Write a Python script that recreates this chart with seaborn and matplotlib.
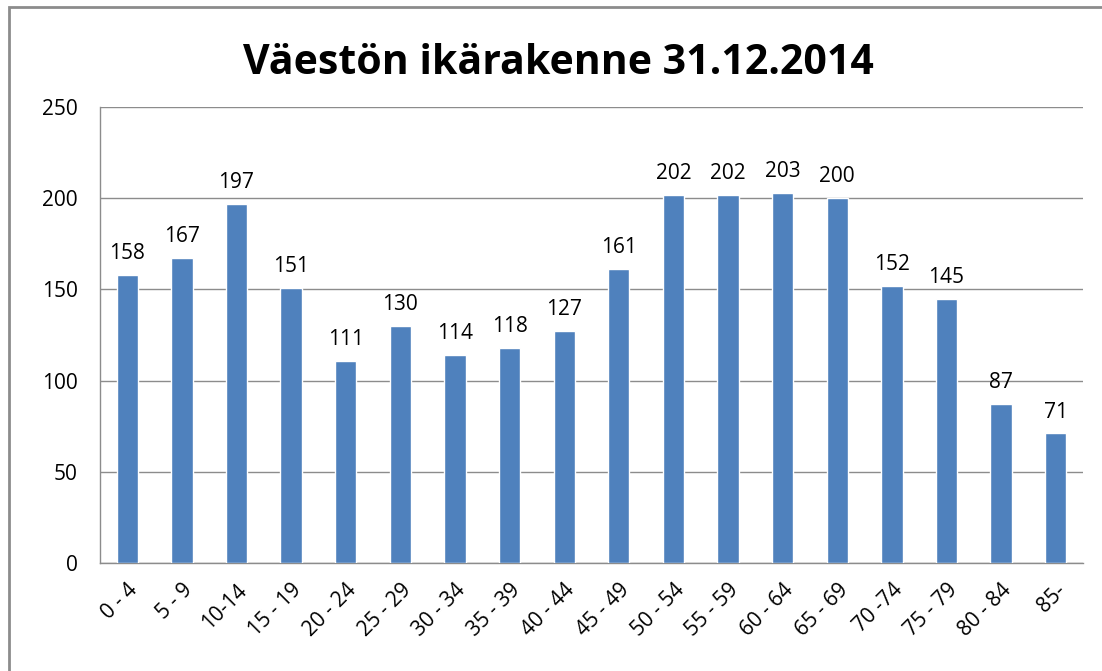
import numpy as np
import pandas as pd
import matplotlib
matplotlib.use("Agg")
import matplotlib.pyplot as plt
import seaborn as sns
from matplotlib.patches import Rectangle

# data
age_groups = ["0 - 4", "5 - 9", "10-14", "15 - 19", "20 - 24", "25 - 29", "30 - 34",
              "35 - 39", "40 - 44", "45 - 49", "50 - 54", "55 - 59", "60 - 64",
              "65 - 69", "70 -74", "75 - 79", "80 - 84", "85-"]
population = [158, 167, 197, 151, 111, 130, 114, 118, 127, 161,
              202, 202, 203, 200, 152, 145, 87, 71]
y_ticks = [0, 50, 100, 150, 200, 250]

df = pd.DataFrame({"ikä": age_groups, "väestö": population})

sns.set_style("white")
plt.rcParams['font.family'] = ['Open Sans', 'DejaVu Sans']
plt.rcParams['text.color'] = 'black'
plt.rcParams['xtick.color'] = 'black'
plt.rcParams['ytick.color'] = 'black'

fig = plt.figure(figsize=(11.02, 6.71), dpi=100)
ax = fig.add_axes([0.0907, 0.161, 0.8921, 0.6795])

sns.barplot(data=df, x="ikä", y="väestö", color="#4F81BD", width=0.39,
            saturation=1, ax=ax, zorder=3)

for i, v in enumerate(population):
    ax.text(i, v + 6, str(v), ha="center", va="bottom", fontsize=15, color="black")

ax.set_ylim(0, 250)
ax.set_xlim(-0.5, len(age_groups) - 0.5)
ax.set_yticks(y_ticks)
ax.yaxis.grid(True, color="#8c8c8c", linewidth=1, zorder=0)
ax.set_xlabel("")
ax.set_ylabel("")

for s in ["top", "right"]:
    ax.spines[s].set_visible(False)
for s in ["left", "bottom"]:
    ax.spines[s].set_color("#8c8c8c")
    ax.spines[s].set_linewidth(1)

ax.set_xticks(np.arange(-0.5, len(age_groups), 1), minor=True)
ax.tick_params(axis="x", which="major", length=0, labelsize=15, pad=12)
ax.tick_params(axis="x", which="minor", length=7, color="#8c8c8c", width=1)
ax.tick_params(axis="y", length=7, color="#8c8c8c", labelcolor="black",
               width=1, labelsize=15, pad=9)
for lab in ax.get_xticklabels():
    lab.set_rotation(45)
    lab.set_ha("right")
    lab.set_rotation_mode("anchor")
    lab.set_color("black")

fig.text(0.507, 0.905, "Väestön ikärakenne 31.12.2014", ha="center", va="center",
         fontsize=29.5, fontweight="bold", color="black")

# chart border
fig.patches.append(Rectangle((9 / 1102, -0.05), 1.2, 1 - 7 / 671 + 0.05,
                             transform=fig.transFigure, fill=False,
                             edgecolor="#8c8c8c", linewidth=2))

fig.savefig("out.png", dpi=100, facecolor="white")
